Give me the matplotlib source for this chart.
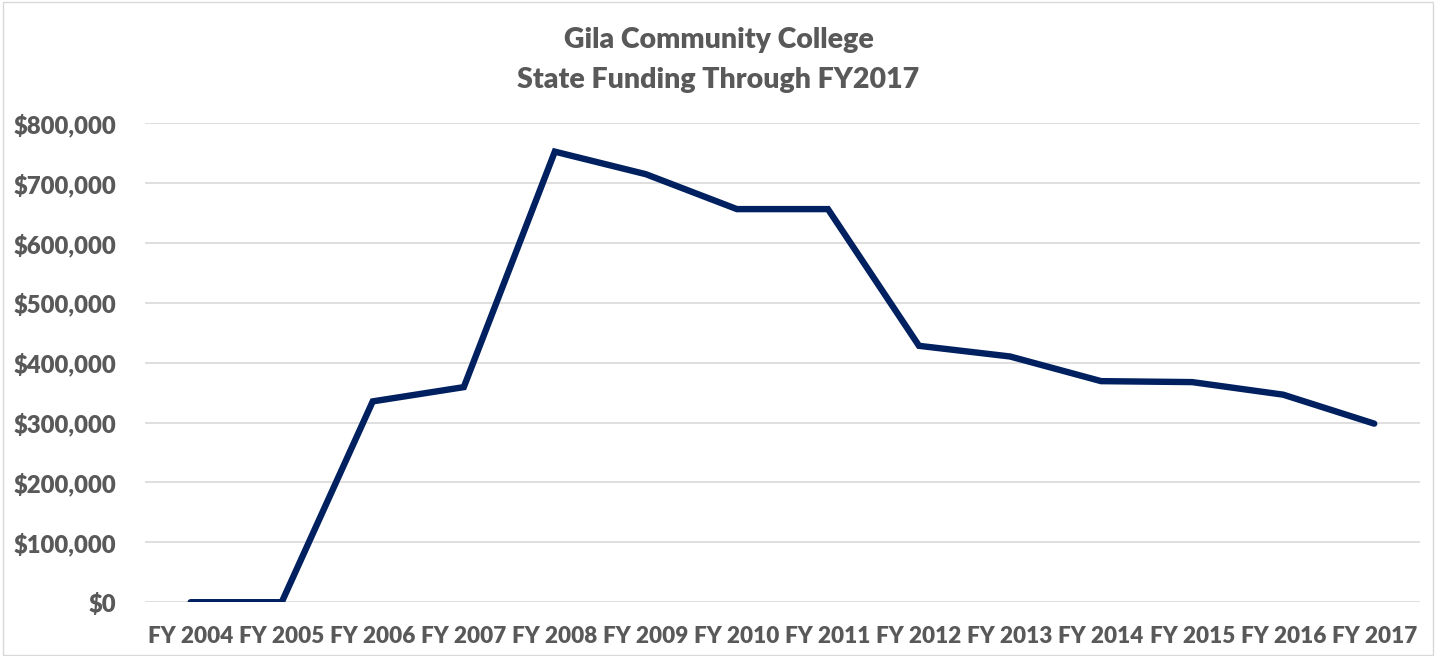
import matplotlib.pyplot as plt
from matplotlib.ticker import FuncFormatter
from matplotlib.patches import Rectangle

# data
years = ["FY 2004", "FY 2005", "FY 2006", "FY 2007", "FY 2008", "FY 2009", "FY 2010",
         "FY 2011", "FY 2012", "FY 2013", "FY 2014", "FY 2015", "FY 2016", "FY 2017"]
funding = [0, 0, 335500, 359300, 752700, 715000, 656700,
           656700, 428300, 410500, 369300, 367700, 346700, 298300]
y_ticks = [0, 100000, 200000, 300000, 400000, 500000, 600000, 700000, 800000]
title_lines = ["Gila Community College", "State Funding Through FY2017"]

plt.rcParams['font.family'] = ['Lato', 'DejaVu Sans']
text_color = "#595959"

fig = plt.figure(figsize=(14.37, 6.56), dpi=100)
ax = fig.add_axes([0.101, 0.082, 0.887, 0.730])

x = range(len(years))
ax.plot(x, funding, color="#002060", linewidth=4.6,
        solid_capstyle='round', solid_joinstyle='miter')

ax.set_xlim(-0.5, len(years) - 0.5)
ax.set_ylim(0, 800000)
ax.set_yticks(y_ticks)
ax.yaxis.set_major_formatter(FuncFormatter(lambda v, p: f"${v:,.0f}"))
ax.set_xticks(list(x))
ax.set_xticklabels(years)

ax.grid(axis='y', color="#d9d9d9", linewidth=1.2)
ax.set_axisbelow(True)
for s in ax.spines.values():
    s.set_visible(False)

ax.tick_params(axis='both', length=0, colors=text_color)
ax.tick_params(axis='y', pad=21, labelsize=17.2)
ax.tick_params(axis='x', pad=17, labelsize=16.2)
for lbl in ax.get_xticklabels() + ax.get_yticklabels():
    lbl.set_fontweight('heavy')

for ty, line in zip([0.939, 0.878], title_lines):
    fig.text(0.5, ty, line, ha='center', va='center', fontsize=20.5,
             fontweight='heavy', color=text_color)

# light chart border
fig.patches.append(Rectangle((0.002, 0.002), 0.995, 0.995, transform=fig.transFigure,
                             fill=False, edgecolor="#d9d9d9", linewidth=1))

fig.savefig("out.png", dpi=100)
